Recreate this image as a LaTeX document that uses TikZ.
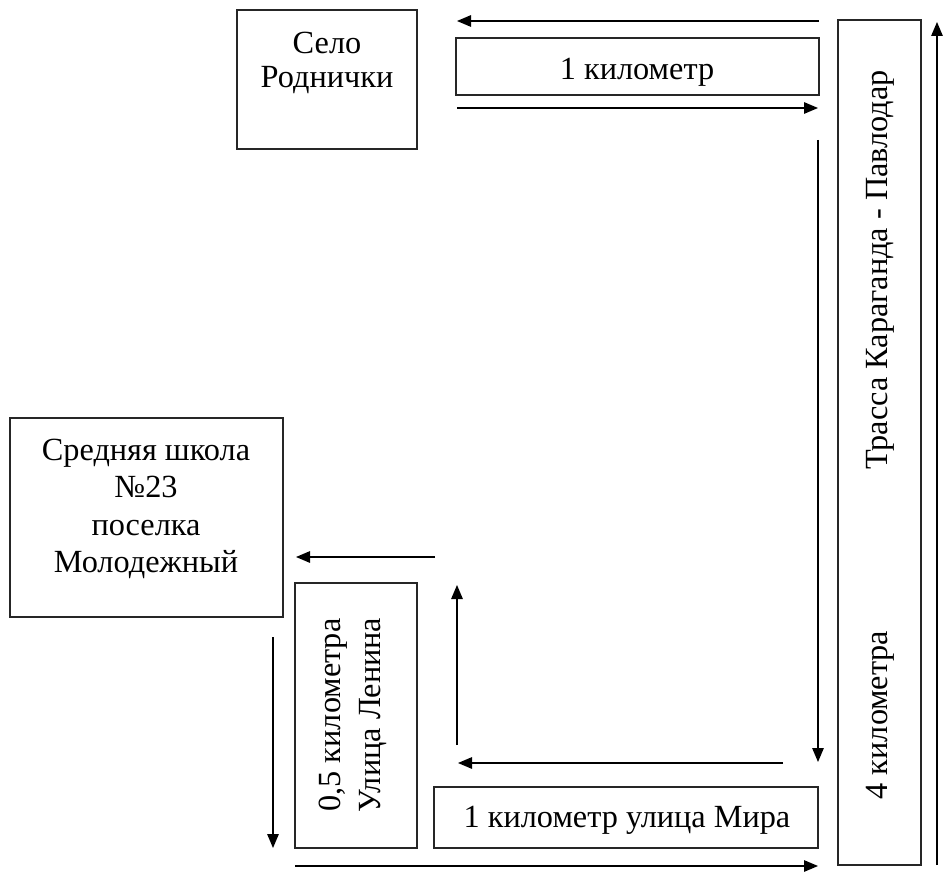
\documentclass[tikz,border=0pt]{standalone}
\usepackage{fontspec}
\setmainfont{Liberation Serif}
\usetikzlibrary{arrows.meta}
\tikzset{
  box/.style={draw=black!85, line width=1.5pt, inner sep=0pt, fill=none},
  lbl/.style={inner sep=0pt, align=center, font=\fontsize{32.3}{35}\selectfont},
  road/.style={line width=1.3pt, -{Triangle[length=14pt,width=11.5pt]}}
}
\begin{document}
\begin{tikzpicture}[x=1pt,y=-1pt]
\useasboundingbox (0,0) rectangle (943,872);
% boxes
\node[box, minimum width=180, minimum height=139] (selo) at (327,79.5) {};
\node[lbl, font=\fontsize{32.3}{33.5}\selectfont] (selotxt) at (327,63) {Село\\Роднички};
\node[box, minimum width=363, minimum height=57] (km1) at (637.5,66.5) {};
\node[lbl] (km1txt) at (637,72) {1 километр};
\node[box, minimum width=83, minimum height=845] (trassa) at (879.5,442.5) {};
\node[lbl, rotate=90] (trassatxt) at (880,270) {Трасса Караганда - Павлодар};
\node[lbl, rotate=90] (km4txt) at (880,715) {4 километра};
\node[box, minimum width=273, minimum height=199] (school) at (146.5,517.5) {};
\node[lbl, font=\fontsize{32.3}{37.5}\selectfont] (schooltxt) at (146,509) {Средняя школа\\№23\\поселка\\Молодежный};
\node[box, minimum width=122, minimum height=265] (lenin) at (356,715.5) {};
\node[lbl, font=\fontsize{32.3}{40}\selectfont, rotate=90] (lenintxt) at (353,715) {0,5 километра\\Улица Ленина};
\node[box, minimum width=384, minimum height=61] (mira) at (626,817.5) {};
\node[lbl] (miratxt) at (627,820) {1 километр улица Мира};
% arrow end points
\coordinate (a1s) at (819,21);  \coordinate (a1e) at (457,21);
\coordinate (a2s) at (457,108); \coordinate (a2e) at (818,108);
\coordinate (a3s) at (818,140); \coordinate (a3e) at (818,762);
\coordinate (a4s) at (937,865); \coordinate (a4e) at (937,22);
\coordinate (a5s) at (783,763); \coordinate (a5e) at (458,763);
\coordinate (a6s) at (457,745); \coordinate (a6e) at (457,585);
\coordinate (a7s) at (435,557); \coordinate (a7e) at (296,557);
\coordinate (a8s) at (273,637); \coordinate (a8e) at (273,848);
\coordinate (a9s) at (295,866); \coordinate (a9e) at (818,866);
\draw[road] (a1s) -- (a1e);
\draw[road] (a2s) -- (a2e);
\draw[road] (a3s) -- (a3e);
\draw[road] (a4s) -- (a4e);
\draw[road] (a5s) -- (a5e);
\draw[road] (a6s) -- (a6e);
\draw[road] (a7s) -- (a7e);
\draw[road] (a8s) -- (a8e);
\draw[road] (a9s) -- (a9e);
\end{tikzpicture}
\end{document}
